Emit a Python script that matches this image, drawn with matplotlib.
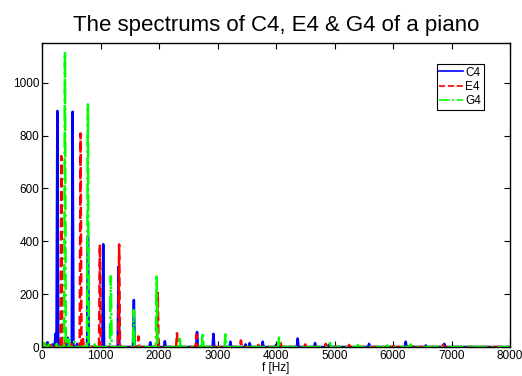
import numpy as np
import matplotlib.pyplot as plt

plt.rcParams['font.family'] = ['Liberation Sans', 'DejaVu Sans']

# peak frequencies [Hz] and magnitudes for each note
c4_freq = [95, 180, 230, 262, 300, 440, 523, 600, 785, 1046, 1308, 1570, 1850, 2100,
           2650, 2930, 3220, 3480, 3550, 3772, 4000, 4370, 4667, 4900, 5590, 6217, 6560, 6877]
c4_amp = [18, 10, 50, 893, 25, 35, 890, 12, 420, 389, 304, 178, 18, 22,
          57, 50, 20, 10, 15, 20, 8, 32, 15, 8, 12, 20, 6, 12]

e4_freq = [60, 150, 330, 400, 500, 659, 700, 989, 1318, 1648, 1978, 2307, 2637, 2967,
           3400, 3700, 4080, 4500, 4850, 5250, 6000, 6350, 6850]
e4_amp = [12, 8, 722, 25, 12, 808, 30, 388, 388, 40, 205, 52, 47, 10,
          25, 8, 15, 10, 12, 8, 10, 6, 8]

g4_freq = [40, 120, 250, 392, 450, 550, 784, 900, 1176, 1568, 1960, 2352, 2744, 3136,
           3530, 3920, 4050, 4500, 4923, 5400, 5900, 6300, 6800, 7300]
g4_amp = [15, 14, 12, 1117, 30, 20, 918, 10, 268, 140, 266, 40, 55, 48,
          10, 10, 35, 8, 15, 8, 6, 10, 6, 8]


def spectrum(freqs, amps, half_width=15):
    # narrow triangular spikes sitting on the zero line
    x = [0.0]
    y = [0.0]
    for f, a in zip(freqs, amps):
        x += [f - half_width, f, f + half_width]
        y += [0.0, a, 0.0]
    x.append(8000.0)
    y.append(0.0)
    return np.array(x), np.array(y)


fig = plt.figure(figsize=(5.22, 3.76), dpi=100)
ax = fig.add_axes([0.0805, 0.0771, 0.8966, 0.8085])

x, y = spectrum(c4_freq, c4_amp)
ax.plot(x, y, color='blue', lw=1.8, ls='-', label='C4')
x, y = spectrum(e4_freq, e4_amp)
ax.plot(x, y, color='red', lw=1.8, ls='--', label='E4')
x, y = spectrum(g4_freq, g4_amp)
ax.plot(x, y, color=(0, 1, 0), lw=1.8, ls='-.', label='G4')

ax.set_xlim(0, 8000)
ax.set_ylim(0, 1150)
ax.set_xticks(range(0, 8001, 1000))
ax.set_yticks(range(0, 1001, 200))
ax.tick_params(direction='in', top=True, right=True, labelsize=8.5, length=4, width=0.8, pad=2)
for s in ax.spines.values():
    s.set_linewidth(1.0)

ax.set_xlabel('f [Hz]', fontsize=8.5, labelpad=0)
ax.set_title('The spectrums of C4, E4 & G4 of a piano', fontsize=16, pad=9)

leg = ax.legend(loc='upper right', bbox_to_anchor=(0.95, 0.94), fontsize=8.5,
                fancybox=False, framealpha=1, edgecolor='black', handlelength=2.0,
                handletextpad=0.2, borderpad=0.25, labelspacing=0.2, borderaxespad=0.2)
leg.get_frame().set_linewidth(0.8)
for line in leg.get_lines():
    line.set_linewidth(1.2)

fig.savefig('out.png', dpi=100)
